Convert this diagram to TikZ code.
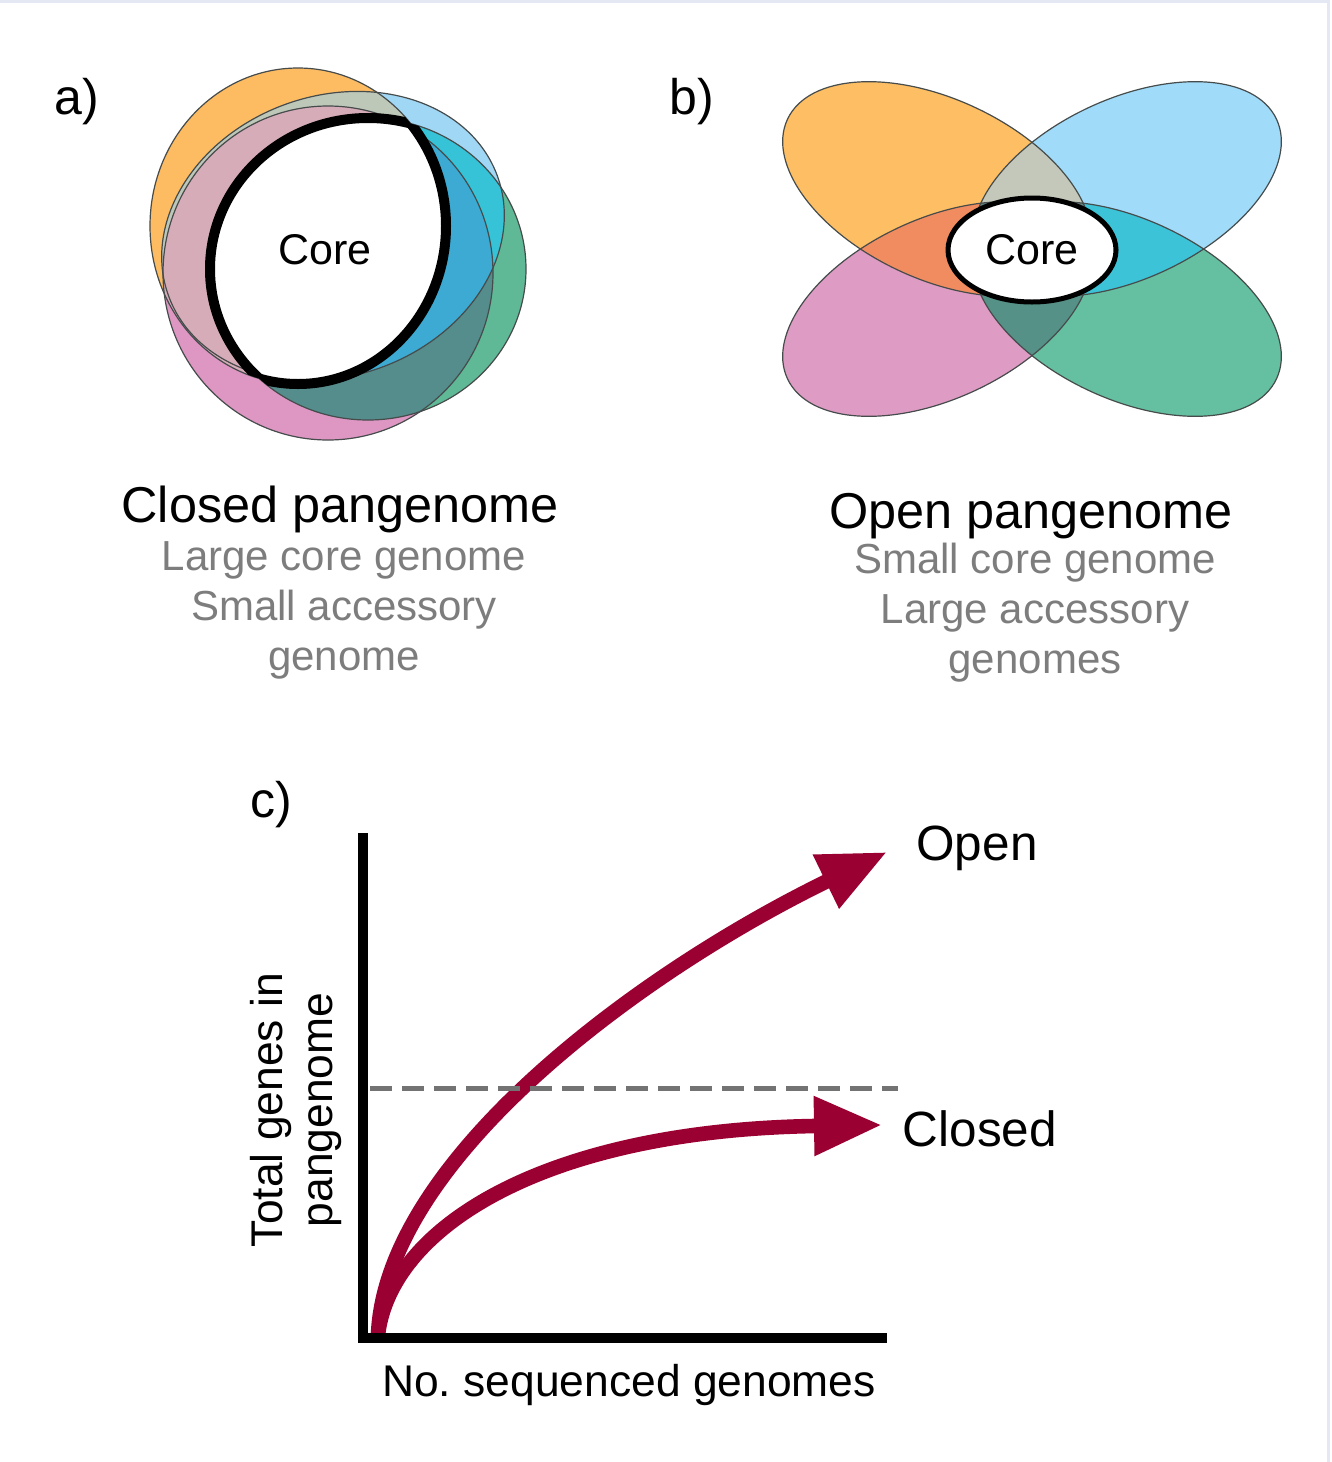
\documentclass[tikz,border=0pt]{standalone}
\usepackage{fontspec}
\setmainfont{Liberation Sans}
\usetikzlibrary{arrows.meta}
\definecolor{edge}{RGB}{70,75,75}
\definecolor{oA}{RGB}{253,187,98}
\definecolor{bA}{RGB}{160,215,245}
\definecolor{gA}{RGB}{95,185,150}
\definecolor{pA}{RGB}{222,150,195}
\definecolor{obA}{RGB}{190,200,185}
\definecolor{opA}{RGB}{215,172,185}
\definecolor{bgA}{RGB}{55,195,215}
\definecolor{bgpA}{RGB}{60,170,210}
\definecolor{gpA}{RGB}{85,140,140}
\definecolor{oB}{RGB}{253,190,100}
\definecolor{bB}{RGB}{160,220,250}
\definecolor{gB}{RGB}{100,192,160}
\definecolor{pB}{RGB}{222,155,196}
\definecolor{obB}{RGB}{195,200,186}
\definecolor{opB}{RGB}{240,140,95}
\definecolor{bgB}{RGB}{60,195,215}
\definecolor{gpB}{RGB}{85,145,135}
\definecolor{midB}{RGB}{100,130,130}
\definecolor{crimson}{RGB}{155,0,50}
\definecolor{note}{RGB}{125,125,125}
\definecolor{dashgray}{RGB}{115,115,115}
\definecolor{framecol}{RGB}{228,232,242}
\newcommand{\ovalOa}{(298,226) ellipse [x radius=148, y radius=158]}
\newcommand{\ovalBa}{(333,236) ellipse [x radius=175, y radius=140, rotate=20]}
\newcommand{\ovalGa}{(368,269) ellipse [x radius=158, y radius=151]}
\newcommand{\ovalPa}{(328,273) ellipse [x radius=165, y radius=167]}
\newcommand{\ovalOb}{(937,189) ellipse [x radius=165, y radius=90, rotate=-25]}
\newcommand{\ovalBb}{(1127,189) ellipse [x radius=165, y radius=90, rotate=25]}
\newcommand{\ovalGb}{(1127,309) ellipse [x radius=165, y radius=90, rotate=-25]}
\newcommand{\ovalPb}{(937,309) ellipse [x radius=165, y radius=90, rotate=25]}
\begin{document}
\begin{tikzpicture}[x=0.5pt,y=-0.5pt,
 petal/.style={draw=edge,line width=0.6pt},
 rim/.style={line width=5pt},
 lab/.style={font=\fontsize{25}{30}\selectfont},
 head/.style={font=\fontsize{25.2}{30}\selectfont,anchor=base},
 sub/.style={font=\fontsize{21}{25}\selectfont,text=note,anchor=base},
 core/.style={font=\fontsize{21.5}{26}\selectfont},
 axislab/.style={font=\fontsize{22.2}{26}\selectfont},
 curvelab/.style={font=\fontsize{24.75}{30}\selectfont},
 growth/.style={draw=crimson,line width=7.3pt,-{Triangle[length=34pt,width=28pt]}}]
\useasboundingbox (0,0) rectangle (1332,1462);
\fill[white] (0,0) rectangle (1332,1462);
\draw[framecol,line width=1.5pt] (0,1) -- (1328,1) -- (1328,1462);
\fill[pA] \ovalPa;
\fill[gA] \ovalGa;
\fill[oA] \ovalOa;
\fill[bA] \ovalBa;
\begin{scope}\clip \ovalBa; \fill[pA] \ovalPa; \end{scope}
\begin{scope}\clip \ovalOa; \fill[obA] \ovalBa; \end{scope}
\begin{scope}\clip \ovalOa; \fill[opA] \ovalPa; \end{scope}
\begin{scope}\clip \ovalGa; \fill[gpA] \ovalPa; \end{scope}
\begin{scope}\clip \ovalBa; \fill[bgA] \ovalGa; \end{scope}
\begin{scope}\clip \ovalBa; \clip \ovalGa; \fill[bgpA] \ovalPa; \end{scope}
\draw[petal] \ovalPa;
\draw[petal] \ovalGa;
\draw[petal] \ovalOa;
\draw[petal] \ovalBa;
\begin{scope}\clip \ovalOa; \fill[white] \ovalGa; \draw[rim] \ovalGa; \end{scope}
\begin{scope}\clip \ovalGa; \draw[rim] \ovalOa; \end{scope}
\fill[pB] \ovalPb;
\fill[gB] \ovalGb;
\fill[oB] \ovalOb;
\fill[bB] \ovalBb;
\begin{scope}\clip \ovalOb; \fill[obB] \ovalBb; \end{scope}
\begin{scope}\clip \ovalOb; \fill[opB] \ovalPb; \end{scope}
\begin{scope}\clip \ovalBb; \fill[bgB] \ovalGb; \end{scope}
\begin{scope}\clip \ovalGb; \fill[gpB] \ovalPb; \end{scope}
\begin{scope}\clip \ovalOb; \fill[midB] \ovalGb; \end{scope}
\begin{scope}\clip \ovalBb; \fill[midB] \ovalPb; \end{scope}
\draw[petal] \ovalPb;
\draw[petal] \ovalGb;
\draw[petal] \ovalOb;
\draw[petal] \ovalBb;
\draw[fill=white,line width=2.5pt] (1032,250) ellipse [x radius=84, y radius=52];
\node[lab] (0) at (77,102) {a)};
\node[core] (1) at (325,250) {Core};
\node[lab] (2) at (692,102) {b)};
\node[core] (3) at (1032,250) {Core};
\node[head] (4) at (340,522) {Closed pangenome};
\node[sub] (5) at (344,570) {Large core genome};
\node[sub] (6) at (344,620) {Small accessory};
\node[sub] (7) at (344,670) {genome};
\node[head] (8) at (1031,528) {Open pangenome};
\node[sub] (9) at (1035,573) {Small core genome};
\node[sub] (10) at (1035,623) {Large accessory};
\node[sub] (11) at (1035,673) {genomes};
\node[lab] (12) at (271,805) {c)};
\coordinate (13) at (363,833);
\coordinate (14) at (363,1338);
\coordinate (15) at (887,1338);
\coordinate (16) at (370,1088);
\coordinate (17) at (898,1088);
\coordinate (18) at (378,1335);
\coordinate (19) at (887,852);
\coordinate (20) at (882,1125);
\draw[growth] (18) .. controls (385,1160) and (640,972) .. (19);
\draw[growth] (18) .. controls (390,1230) and (540,1130) .. (20);
\draw[dashgray,line width=2.5pt,dash pattern=on 11pt off 5pt] (16)--(17);
\draw[line width=5pt] (13)--(14)--(15);
\node[curvelab] (21) at (977,848) {Open};
\node[curvelab] (22) at (980,1129) {Closed};
\node[axislab] (23) at (629,1385) {No.\ sequenced genomes};
\node[axislab,rotate=90] (24) at (271,1110) {Total genes in};
\node[axislab,rotate=90] (25) at (325,1110) {pangenome};
\end{tikzpicture}
\end{document}
